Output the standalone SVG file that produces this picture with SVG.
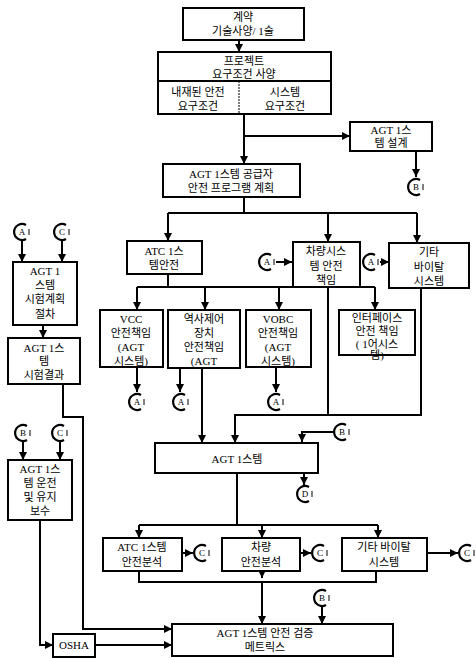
<svg xmlns="http://www.w3.org/2000/svg" width="476" height="658" viewBox="0 0 476 658">
<style>
.box{fill:#fff;stroke:#000;stroke-width:2}
.ln{fill:none;stroke:#000;stroke-width:2}
.ar{fill:none;stroke:#000;stroke-width:2;marker-end:url(#ah)}
text{font-family:"Liberation Serif","Noto Sans CJK KR",serif;font-size:11px;text-anchor:middle;fill:#000}
.rt{font-size:9px}
</style>
<defs>
<marker id="ah" viewBox="0 0 10 10" refX="10" refY="5" markerWidth="8" markerHeight="8" orient="auto" markerUnits="userSpaceOnUse"><path d="M0,0 L10,5 L0,10 z"/></marker>
<g id="ring"><path d="M4,-7 A8,8 0 1 0 4,7" fill="none" stroke="#000" stroke-width="2.2"/><path d="M7,-3 V3" stroke="#000" stroke-width="1"/></g>
</defs>
<rect width="476" height="658" fill="#fff"/>

<g id="connectors">
<path class="ar" d="M239,40 V52"/>
<path class="ar" d="M244,114 V164"/>
<path class="ar" d="M244,136 H350"/>
<path class="ar" d="M416,151 V177"/>
<path class="ln" d="M244,197 V213 M168,213 H417"/>
<path class="ar" d="M168,213 V241"/>
<path class="ar" d="M328,213 V242"/>
<path class="ar" d="M417,213 V243"/>
<path class="ar" d="M276,262 H292"/>
<path class="ar" d="M380,262 H389"/>
<path class="ln" d="M168,274 V287 M137,287 H375"/>
<path class="ar" d="M137,287 V310"/>
<path class="ar" d="M205,287 V310"/>
<path class="ar" d="M279,287 V310"/>
<path class="ar" d="M375,287 V310"/>
<path class="ar" d="M137,367 V392"/>
<path class="ar" d="M180,368 V392"/>
<path class="ar" d="M202,368 V443"/>
<path class="ar" d="M276,367 V392"/>
<path class="ln" d="M328,287 V415"/>
<path class="ar" d="M421,288 V415 H235 V443"/>
<path class="ar" d="M333,432 H302 V442"/>
<path class="ar" d="M304,473 V485"/>
<path class="ln" d="M237,473 V525 M139,525 H378"/>
<path class="ar" d="M139,525 V538"/>
<path class="ar" d="M262,525 V538"/>
<path class="ar" d="M378,525 V538"/>
<path class="ar" d="M182,553 H193"/>
<path class="ar" d="M300,553 H311"/>
<path class="ar" d="M427,553 H458"/>
<path class="ln" d="M139,571 V582 H376 V571"/>
<path class="ar" d="M262,571 V578"/>
<path class="ar" d="M262,582 V624"/>
<path class="ar" d="M322,607 V624"/>
<path class="ar" d="M22,241 V262"/>
<path class="ar" d="M62,241 V262"/>
<path class="ar" d="M43,325 V338"/>
<path class="ar" d="M63,384 V417 H83 V629 H172"/>
<path class="ar" d="M23,442 V460"/>
<path class="ar" d="M60,442 V460"/>
<path class="ar" d="M40,520 V645 H53"/>
<path class="ar" d="M95,645 H172"/>
</g>

<g id="n-contract"><rect class="box" x="183" y="8" width="121" height="32"/><text x="243" y="21">계약</text><text x="243" y="35">기술사양/ 1술</text></g>

<g id="n-project"><rect class="box" x="158" y="52" width="173" height="62"/><path class="ln" d="M158,81 H331" stroke-width="1"/><path d="M239,81 V114" stroke="#000" stroke-width="1" stroke-dasharray="2,1"/>
<text x="244" y="65">프로젝트</text><text x="244" y="78">요구조건 사양</text>
<text x="198" y="96">내재된 안전</text><text x="198" y="110">요구조건</text>
<text x="285" y="96">시스템</text><text x="285" y="110">요구조건</text></g>

<g id="n-design"><rect class="box" x="350" y="122" width="82" height="29"/><text x="391" y="134">AGT 1스</text><text x="391" y="147">템 설계</text></g>
<g id="r-b1"><use href="#ring" x="416" y="187"/><text class="rt" x="416" y="190">B</text></g>

<g id="n-supplier"><rect class="box" x="163" y="164" width="137" height="33"/><text x="231" y="178">AGT 1스템 공급자</text><text x="231" y="192">안전 프로그램 계획</text></g>

<g id="n-atc"><rect class="box" x="127" y="241" width="75" height="33"/><text x="164" y="255">ATC 1스</text><text x="164" y="269">템안전</text></g>
<g id="r-a1"><use href="#ring" x="267" y="262"/><text class="rt" x="267" y="265">A</text></g>
<g id="n-vehicle"><rect class="box" x="293" y="242" width="67" height="45"/><text x="326" y="255">차량시스</text><text x="326" y="270">템 안전</text><text x="326" y="284">책임</text></g>
<g id="r-a2"><use href="#ring" x="371" y="262"/><text class="rt" x="371" y="265">A</text></g>
<g id="n-other"><rect class="box" x="389" y="243" width="80" height="45"/><text x="429" y="256">기타</text><text x="429" y="271">바이탈</text><text x="429" y="285">시스템</text></g>

<g id="n-vcc"><rect class="box" x="100" y="310" width="63" height="57"/><text x="131" y="323">VCC</text><text x="131" y="337">안전책임</text><text x="131" y="351">(AGT</text><text x="131" y="365">시스템)</text></g>
<g id="n-station"><rect class="box" x="168" y="310" width="72" height="58"/><text x="204" y="323">역사제어</text><text x="204" y="337">장치</text><text x="204" y="351">안전책임</text><text x="204" y="365">(AGT</text></g>
<g id="n-vobc"><rect class="box" x="246" y="310" width="65" height="57"/><text x="278" y="323">VOBC</text><text x="278" y="337">안전책임</text><text x="278" y="351">(AGT</text><text x="278" y="365">시스템)</text></g>
<g id="n-interface"><rect class="box" x="339" y="310" width="76" height="45"/><text x="377" y="322">인터페이스</text><text x="377" y="335">안전 책임</text><text x="377" y="348">( 1어시스</text><text x="377" y="359">템)</text></g>

<g id="r-a3"><use href="#ring" x="137" y="402"/><text class="rt" x="137" y="405">A</text></g>
<g id="r-a4"><use href="#ring" x="181" y="402"/><text class="rt" x="181" y="405">A</text></g>
<g id="r-a5"><use href="#ring" x="276" y="402"/><text class="rt" x="276" y="405">A</text></g>
<g id="r-b2"><use href="#ring" x="342" y="432"/><text class="rt" x="342" y="435">B</text></g>

<g id="n-fta"><rect class="box" x="155" y="443" width="163" height="30"/><text x="237" y="463">AGT 1스템</text></g>
<g id="r-d"><use href="#ring" x="305" y="494"/><text class="rt" x="305" y="497">D</text></g>

<g id="n-atc-an"><rect class="box" x="103" y="538" width="79" height="33"/><text x="142" y="551">ATC 1스템</text><text x="142" y="566">안전분석</text></g>
<g id="r-c1"><use href="#ring" x="202" y="553"/><text class="rt" x="202" y="556">C</text></g>
<g id="n-veh-an"><rect class="box" x="222" y="538" width="78" height="33"/><text x="261" y="551">차량</text><text x="261" y="566">안전분석</text></g>
<g id="r-c2"><use href="#ring" x="320" y="553"/><text class="rt" x="320" y="556">C</text></g>
<g id="n-oth-an"><rect class="box" x="342" y="538" width="85" height="33"/><text x="384" y="551">기타  바이탈</text><text x="384" y="566">시스템</text></g>
<g id="r-c3"><use href="#ring" x="467" y="553"/><text class="rt" x="467" y="556">C</text></g>
<g id="r-b3"><use href="#ring" x="322" y="598"/><text class="rt" x="322" y="601">B</text></g>

<g id="n-matrix"><rect class="box" x="172" y="624" width="221" height="32"/><text x="265" y="637">AGT 1스템 안전 검증</text><text x="265" y="651">메트릭스</text></g>

<g id="r-a6"><use href="#ring" x="22" y="232"/><text class="rt" x="22" y="235">A</text></g>
<g id="r-c4"><use href="#ring" x="62" y="232"/><text class="rt" x="62" y="235">C</text></g>
<g id="n-testplan"><rect class="box" x="13" y="262" width="64" height="63"/><text x="45" y="275">AGT 1</text><text x="45" y="289">스템</text><text x="45" y="303">시험계획</text><text x="45" y="318">절차</text></g>
<g id="n-testres"><rect class="box" x="8" y="338" width="72" height="46"/><text x="44" y="352">AGT 1스</text><text x="44" y="365">템</text><text x="44" y="379">시험결과</text></g>
<g id="r-b4"><use href="#ring" x="23" y="433"/><text class="rt" x="23" y="436">B</text></g>
<g id="r-c5"><use href="#ring" x="60" y="433"/><text class="rt" x="60" y="436">C</text></g>
<g id="n-om"><rect class="box" x="8" y="460" width="64" height="60"/><text x="40" y="473">AGT 1스</text><text x="40" y="487">템 운전</text><text x="40" y="501">및 유지</text><text x="40" y="515">보수</text></g>
<g id="n-osha"><rect class="box" x="53" y="634" width="42" height="23"/><text x="74" y="649">OSHA</text></g>
</svg>
